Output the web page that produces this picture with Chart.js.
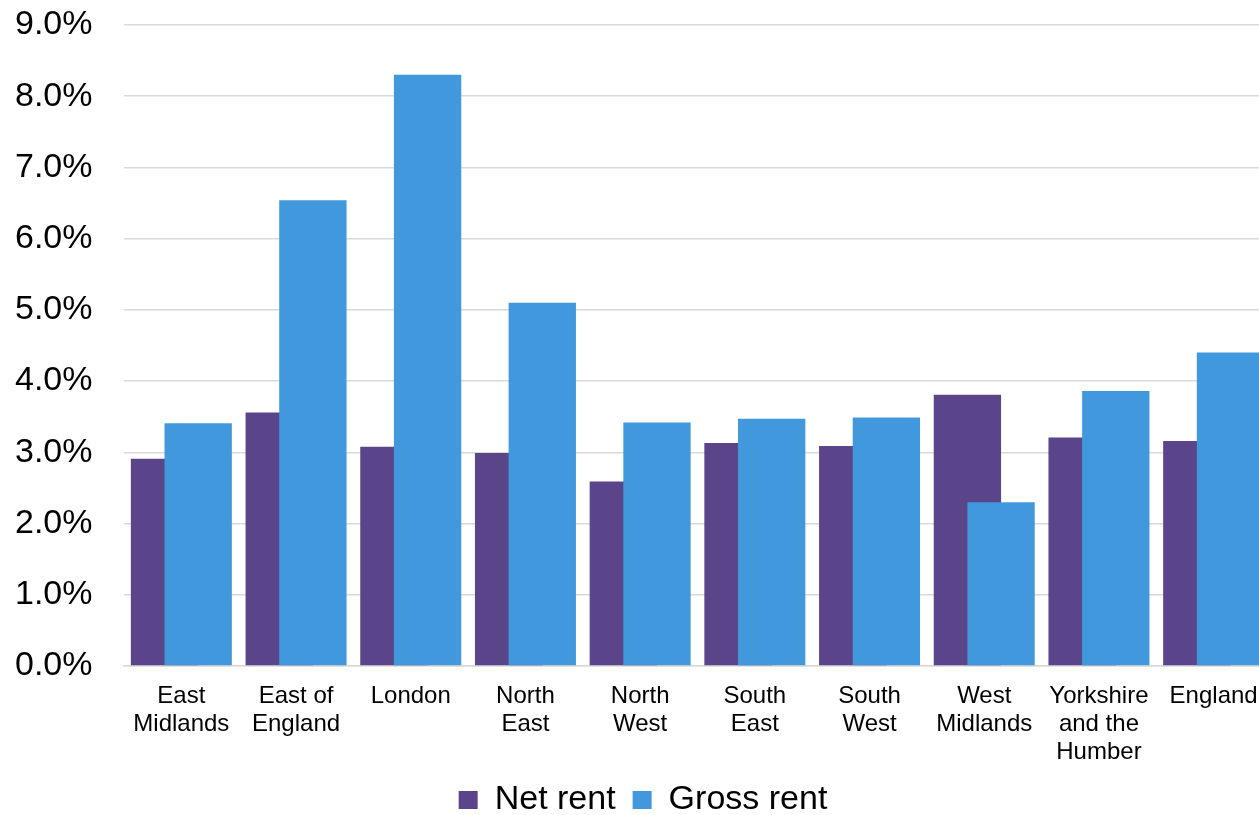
<!DOCTYPE html>
<html>
<head>
<meta charset="utf-8">
<script src="https://cdn.jsdelivr.net/npm/chart.js@4"></script>
<style>
    html, body { margin: 0; padding: 0; background: #fff; overflow: hidden; }
    #wrap { width: 1303px; height: 827px; }
</style>
</head>
<body>
<div id="wrap"><canvas id="rentChart"></canvas></div>
<script>
// Rental yield by region

const regions = [
    ['East', 'Midlands'], ['East of', 'England'], 'London', ['North', 'East'], ['North', 'West'],
    ['South', 'East'], ['South', 'West'], ['West', 'Midlands'], ['Yorkshire', 'and the', 'Humber'], 'England'
];
const netRent = [2.91, 3.56, 3.08, 2.99, 2.59, 3.13, 3.09, 3.81, 3.21, 3.16];
const grossRent = [3.41, 6.54, 8.30, 5.10, 3.42, 3.47, 3.49, 2.30, 3.86, 4.40];
const yTicks = [0, 1, 2, 3, 4, 5, 6, 7, 8, 9];

// Excel draws the later series on top of the earlier one where bars overlap
const drawInSeriesOrder = {
    id: 'drawInSeriesOrder',
    beforeDatasetsDraw(chart) {
        chart.getSortedVisibleDatasetMetas().forEach(meta => meta.controller.draw());
        return false;
    }
};

document.addEventListener('DOMContentLoaded', () => {
    const ctx = document.getElementById('rentChart').getContext('2d');

    const colors = {
        net: '#5B458A',
        gross: '#4198DC',
        grid: '#D9D9D9'
    };

    Chart.defaults.font.family = '"Liberation Sans", Arial, sans-serif';
    Chart.defaults.color = '#000';

    new Chart(ctx, {
        type: 'bar',
        data: {
            labels: regions,
            datasets: [{
                label: 'Net rent',
                data: netRent,
                backgroundColor: colors.net,
                categoryPercentage: 0.587,
                barPercentage: 2.0
            }, {
                label: 'Gross rent',
                data: grossRent,
                backgroundColor: colors.gross,
                categoryPercentage: 0.587,
                barPercentage: 2.0
            }]
        },
        options: {
            responsive: true,
            maintainAspectRatio: false,
            animation: false,
            layout: {
                padding: { top: 25, right: 32, left: 15, bottom: 0 }
            },
            scales: {
                x: {
                    grid: { display: false, drawTicks: false },
                    border: { display: true, color: colors.grid, width: 1.5 },
                    ticks: {
                        font: { size: 24, lineHeight: 1.15 },
                        padding: 17,
                        maxRotation: 0,
                        autoSkip: false
                    },
                    afterFit: (scale) => { scale.height = 100; }
                },
                y: {
                    min: 0,
                    max: 9,
                    afterBuildTicks: (scale) => {
                        scale.ticks = yTicks.map(v => ({ value: v }));
                    },
                    grid: { color: colors.grid, lineWidth: 1.5, drawTicks: false },
                    border: { display: false },
                    ticks: {
                        font: { size: 34 },
                        padding: 0,
                        crossAlign: 'far',
                        callback: (value) => value.toFixed(1) + '%'
                    },
                    afterFit: (scale) => { scale.width = 109; }
                }
            },
            plugins: {
                legend: {
                    position: 'bottom',
                    labels: {
                        font: { size: 34 },
                        boxWidth: 19,
                        boxHeight: 18,
                        padding: 17
                    }
                },
                tooltip: { enabled: false }
            }
        },
        plugins: [drawInSeriesOrder]
    });
});
</script>
</body>
</html>
